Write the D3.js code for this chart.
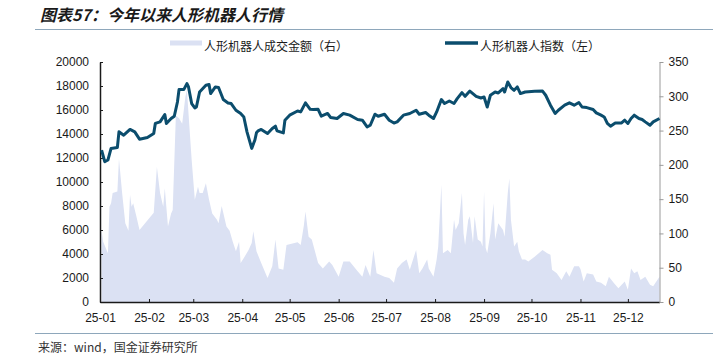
<!DOCTYPE html>
<html>
<head>
<meta charset="utf-8">
<script src="https://cdn.jsdelivr.net/npm/d3@7"></script>
<style>
  html, body { margin: 0; padding: 0; background: #fff; }
  svg { display: block; }
</style>
</head>
<body>
<svg id="chart" width="713" height="357"></svg>
<script>
// ---- data ----
const title = "图表57：今年以来人形机器人行情";
const source = "来源：wind，国金证券研究所";
const seriesNames = ["人形机器人成交金额（右）", "人形机器人指数（左）"];
const xTickLabels = ["25-01","25-02","25-03","25-04","25-05","25-06","25-07","25-08","25-09","25-10","25-11","25-12"];
const leftTicks = [0,2000,4000,6000,8000,10000,12000,14000,16000,18000,20000];
const rightTicks = [0,50,100,150,200,250,300,350];

const idxDates = ["01-02","01-04","01-06","01-08","01-12","01-13","01-16","01-20","01-23","01-26","01-31",
  "02-04","02-05","02-08","02-11","02-12","02-15","02-17","02-19","02-20","02-23","02-25","02-26","02-28",
  "03-02","03-03","03-05","03-09","03-11","03-12","03-15","03-17","03-20","03-23","03-25","03-28","03-31",
  "04-02","04-04","04-07","04-09","04-10","04-11","04-13","04-17","04-20","04-22","04-23","04-27","04-28",
  "05-01","05-06","05-08","05-11","05-14","05-16","05-19","05-21","05-25","05-27","05-31",
  "06-04","06-08","06-13","06-16","06-19","06-21","06-24","06-26","06-30",
  "07-03","07-06","07-08","07-12","07-16","07-20","07-22","07-26","07-28","07-31",
  "08-02","08-05","08-07","08-10","08-13","08-15","08-18","08-20","08-23","08-27","08-30",
  "09-01","09-03","09-05","09-08","09-10","09-13","09-14","09-16","09-18","09-20","09-22","09-24","09-27",
  "10-03","10-08","10-10","10-12","10-13","10-16","10-18","10-22","10-25","10-28","10-31",
  "11-02","11-05","11-09","11-11","11-14","11-16","11-18","11-20","11-23","11-27","11-29",
  "12-01","12-03","12-05","12-08","12-10","12-12","12-15","12-17","12-21"];
const idxValues = [12660,11690,11830,12800,12880,14180,13900,14380,14180,13570,13710,
  14040,14880,15010,15620,14880,15290,15480,16670,17700,17700,18200,17920,16540,
  16170,16250,17500,18060,18120,17370,17920,17870,16870,16590,16540,15980,15710,
  15420,14180,12800,13500,14100,14260,14380,14040,14460,14650,14260,14090,15150,
  15570,15920,15840,16590,16060,16040,16060,15480,15710,15370,15290,
  15710,15570,15210,15150,14590,14730,15650,15480,15650,
  15150,14920,15010,15570,15710,15980,15650,15790,15570,15290,
  15840,16870,16540,16750,16540,16950,17450,17140,17580,17140,17000,
  17080,16250,17230,17500,17420,17780,17500,18330,17870,17640,17920,17370,17500,
  17560,17580,17230,16670,16400,15710,15980,16400,16600,16400,16620,
  16250,16200,16040,15760,15570,15420,14880,14650,14920,14920,15150,
  14880,15290,15570,15290,15210,15010,14730,15010,15290];

const volDates = ["01-02","01-03","01-06","01-07","01-08","01-09","01-12","01-13","01-15","01-17","01-19","01-20","01-21","01-22","01-24","01-26",
  "02-04","02-06","02-08","02-10","02-11","02-13","02-15","02-16","02-18","02-20","02-22","02-24","02-25","02-26","02-28",
  "03-02","03-04","03-05","03-07","03-09","03-11","03-13","03-16","03-17","03-19","03-22","03-24","03-26","03-28","03-30","03-31",
  "04-02","04-05","04-07","04-08","04-10","04-13","04-17","04-20","04-22","04-24","04-27","04-29",
  "05-06","05-08","05-10","05-11","05-13","05-15","05-19","05-22","05-26","05-28",
  "06-01","06-04","06-08","06-13","06-16","06-18","06-21","06-23","06-25","06-30",
  "07-03","07-06","07-08","07-11","07-14","07-16","07-20","07-22","07-24","07-27","07-28","07-31",
  "08-02","08-03","08-05","08-06","08-09","08-11","08-13","08-14","08-16","08-18","08-19","08-20","08-22","08-23","08-25","08-26","08-28","08-30","08-31",
  "09-01","09-02","09-03","09-05","09-07","09-08","09-10","09-13","09-14","09-16","09-17","09-18","09-20","09-22","09-23","09-25","09-27","09-29",
  "10-03","10-08","10-11","10-13","10-14","10-17","10-20","10-23","10-25","10-28","10-31",
  "11-01","11-03","11-05","11-09","11-11","11-14","11-17","11-19","11-22","11-25","11-29",
  "12-01","12-03","12-05","12-07","12-09","12-12","12-15","12-17","12-21"];
const volValues = [104,88,71,139,144,159,161,209,159,115,104,156,139,144,125,105,
  130,197,159,139,166,110,129,134,272,268,260,299,309,275,207,
  149,168,159,159,173,149,129,120,115,140,110,104,88,74,88,57,
  64,76,86,103,74,57,35,52,91,49,47,83,
  87,83,112,132,95,91,57,49,59,54,
  37,59,59,45,37,54,37,76,42,37,
  35,28,49,57,62,47,76,42,49,62,49,37,
  62,81,171,71,76,71,120,105,115,159,100,83,120,125,86,125,91,88,81,
  161,79,71,100,144,91,115,105,95,159,180,120,81,88,74,62,62,59,
  66,76,71,69,47,42,32,45,37,52,52,
  48,30,42,40,30,28,23,37,28,20,30,
  18,49,42,45,32,37,25,23,37];

// ---- drawing ----
const parse = s => d3.timeParse("%Y-%m-%d")("2025-" + s);
const idx = idxDates.map((d, i) => ({ date: parse(d), v: idxValues[i] }));
const vol = volDates.map((d, i) => ({ date: parse(d), v: volValues[i] }));

const svg = d3.select("#chart");
const plotLeft = 100, plotRight = 659.5, plotTop = 62, plotBottom = 302;

const x = d3.scaleTime().domain([parse("01-01"), parse("12-21")]).range([plotLeft, plotRight]);
const yL = d3.scaleLinear().domain([0, 20000]).range([plotBottom, plotTop]);
const yR = d3.scaleLinear().domain([0, 350]).range([plotBottom, plotTop]);

const cjk = "'Noto Sans CJK SC', 'Noto Sans', sans-serif";
const latin = "'Liberation Sans', Arial, sans-serif";

// title
svg.append("text").attr("x", 40).attr("y", 21)
  .attr("font-family", cjk).attr("font-size", 16).attr("font-weight", "bold")
  .attr("font-style", "italic").attr("fill", "#1a1a1a").text(title);
svg.append("line").attr("x1", 35).attr("x2", 713).attr("y1", 29.5).attr("y2", 29.5)
  .attr("stroke", "#8ea7bb").attr("stroke-width", 1.2);

// area
svg.append("path").datum(vol)
  .attr("fill", "#dbe1f3")
  .attr("d", d3.area().x(d => x(d.date)).y0(yR(0)).y1(d => yR(d.v)));

// axes
const monthTicks = d3.timeMonth.range(parse("01-01"), parse("12-02"));
const gx = svg.append("g").attr("transform", `translate(0,${plotBottom})`)
  .call(d3.axisBottom(x).tickValues(monthTicks).tickFormat((d, i) => xTickLabels[i])
    .tickSizeInner(-3).tickSizeOuter(0).tickPadding(11));
const gl = svg.append("g").attr("transform", `translate(${plotLeft},0)`)
  .call(d3.axisLeft(yL).tickValues(leftTicks).tickFormat(d3.format("d"))
    .tickSizeInner(-3).tickSizeOuter(0).tickPadding(11));
const gr = svg.append("g").attr("transform", `translate(${plotRight},0)`)
  .call(d3.axisRight(yR).tickValues(rightTicks).tickFormat(d3.format("d"))
    .tickSizeInner(4).tickSizeOuter(0).tickPadding(5));

[gx, gl, gr].forEach(g => g.selectAll("text")
  .attr("font-family", latin).attr("font-size", 12).attr("fill", "#1a1a1a"));
gx.select(".domain").attr("stroke", "#1a1a1a").attr("stroke-width", 1.5);
gx.selectAll(".tick line").attr("stroke", "#1a1a1a");
gl.select(".domain").attr("stroke", "#1a1a1a").attr("stroke-width", 1.5);
gl.selectAll(".tick line").attr("stroke", "#1a1a1a");
gr.select(".domain").attr("stroke", "#9a9a9a");
gr.selectAll(".tick line").attr("stroke", "#9a9a9a");

// index line
svg.append("path").datum(idx)
  .attr("fill", "none").attr("stroke", "#0b4d6d").attr("stroke-width", 3)
  .attr("stroke-linejoin", "round")
  .attr("d", d3.line().x(d => x(d.date)).y(d => yL(d.v)));

// legend
svg.append("rect").attr("x", 170).attr("y", 40.5).attr("width", 32).attr("height", 5).attr("fill", "#dbe1f3");
svg.append("text").attr("x", 204).attr("y", 50.5).attr("font-family", cjk).attr("font-size", 12)
  .attr("fill", "#1a1a1a").text(seriesNames[0]);
svg.append("line").attr("x1", 445).attr("x2", 478).attr("y1", 43).attr("y2", 43)
  .attr("stroke", "#0b4d6d").attr("stroke-width", 3.5);
svg.append("text").attr("x", 480).attr("y", 50.5).attr("font-family", cjk).attr("font-size", 12)
  .attr("fill", "#1a1a1a").text(seriesNames[1]);

// source
svg.append("line").attr("x1", 35).attr("x2", 713).attr("y1", 333.5).attr("y2", 333.5)
  .attr("stroke", "#8ea7bb").attr("stroke-width", 1.2);
svg.append("text").attr("x", 38).attr("y", 352).attr("font-family", cjk).attr("font-size", 12)
  .attr("fill", "#333").text(source);
</script>
</body>
</html>
